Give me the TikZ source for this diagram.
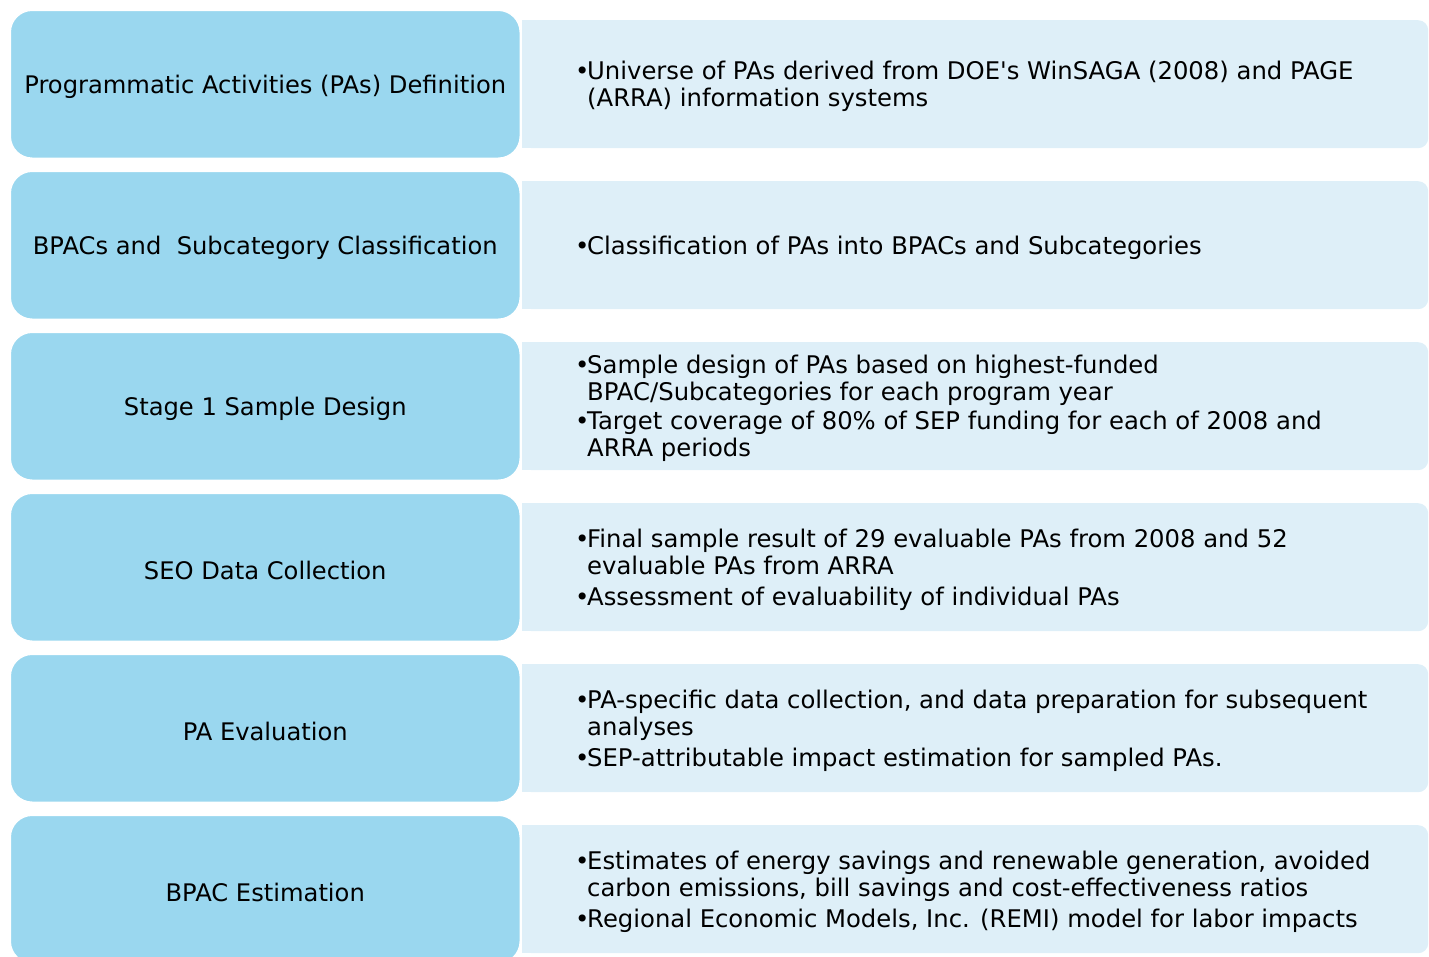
\documentclass[tikz,border=0pt]{standalone}
\usepackage{fontspec}
\setmainfont{DejaVu Sans}
\definecolor{leftblue}{RGB}{154,215,239}
\definecolor{rightblue}{RGB}{222,239,248}
\tikzset{
  stagebox/.style={draw=white, line width=1.5pt, fill=leftblue, rounded corners=22pt,
    minimum width=510pt, minimum height=148pt, inner sep=0pt, anchor=north west,
    font=\fontsize{24.2}{28}\selectfont},
  stagelabel/.style={inner sep=0pt, yshift=-3pt, font=\fontsize{24.2}{28}\selectfont},
  detailbox/.style={fill=rightblue, rounded corners=10pt, minimum width=906pt,
    minimum height=128pt, inner sep=0pt, anchor=north west},
  detailtext/.style={anchor=west, inner sep=0pt, align=left, yshift=-3pt,
    font=\fontsize{24.3}{27}\selectfont},
}
\newcommand{\bul}{\makebox[12pt][l]{•}}
\begin{document}
\begin{tikzpicture}[x=1pt,y=-1pt]
\useasboundingbox (0,0) rectangle (1429,956);
\clip (0,0) rectangle (1429,956);
\foreach \t/\r [count=\i] in {10/20,171/181,332/342,493/503,654/664,815/825}{
  \fill[rightblue] (522,\r) rectangle (560,\r+128);
  \node[detailbox] (d\i) at (522,\r) {};
  \node[stagebox] (s\i) at (9.5,\t-0.5) {};
}
\node[stagelabel] (l1) at (s1.center) {Programmatic Activities (PAs) Definition};
\node[stagelabel] (l2) at (s2.center) {BPACs and\ \ Subcategory Classification};
\node[stagelabel] (l3) at (s3.center) {Stage 1 Sample Design};
\node[stagelabel] (l4) at (s4.center) {SEO Data Collection};
\node[stagelabel] (l5) at (s5.center) {PA Evaluation};
\node[stagelabel] (l6) at (s6.center) {BPAC Estimation};

\node[detailtext] (t1) at (575,85) {\begin{tabular}{@{}l@{}l@{}}
\bul & Universe of PAs derived from DOE\textquotesingle s WinSAGA (2008) and PAGE\\
 & (ARRA) information systems\end{tabular}};
\node[detailtext] (t2) at (575,246) {\begin{tabular}{@{}l@{}l@{}}
\bul & Classification of PAs into BPACs and Subcategories\end{tabular}};
\node[detailtext] (t3) at (575,407) {\begin{tabular}{@{}l@{}l@{}}
\bul & Sample design of PAs based on highest-funded\\
 & BPAC/Subcategories for each program year\\[2pt]
\bul & Target coverage of 80\% of SEP funding for each of 2008 and\\
 & ARRA periods\end{tabular}};
\node[detailtext] (t4) at (575,568) {\begin{tabular}{@{}l@{}l@{}}
\bul & Final sample result of 29 evaluable PAs from 2008 and 52\\
 & evaluable PAs from ARRA\\[4pt]
\bul & Assessment of evaluability of individual PAs\end{tabular}};
\node[detailtext] (t5) at (575,729) {\begin{tabular}{@{}l@{}l@{}}
\bul & PA-specific data collection, and data preparation for subsequent\\
 & analyses\\[4pt]
\bul & SEP-attributable impact estimation for sampled PAs.\end{tabular}};
\node[detailtext] (t6) at (575,890) {\begin{tabular}{@{}l@{}l@{}}
\bul & Estimates of energy savings and renewable generation, avoided\\
 & carbon emissions, bill savings and cost-effectiveness ratios\\[4pt]
\bul & Regional Economic Models, Inc. (REMI) model for labor impacts\end{tabular}};
\end{tikzpicture}
\end{document}
